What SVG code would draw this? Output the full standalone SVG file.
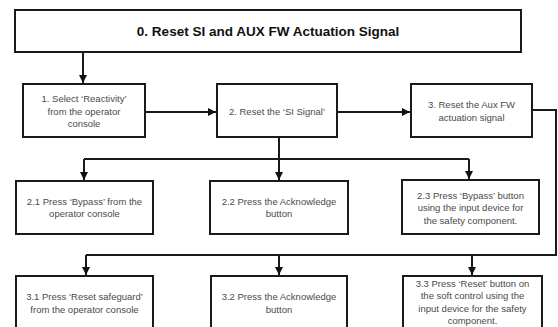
<svg xmlns="http://www.w3.org/2000/svg" width="558" height="327" viewBox="0 0 558 327">
<defs>
<marker id="ah" markerUnits="userSpaceOnUse" markerWidth="10" markerHeight="10" refX="8" refY="4" orient="auto">
<path d="M0,0 L8,4 L0,8 Z" fill="#111"/>
</marker>
<style>
.box{fill:#fff;stroke:#1a1a1a;stroke-width:2}
.t{font-family:"Liberation Sans",Arial,sans-serif;font-size:9.5px;fill:#4a4a4a;text-anchor:middle}
.title{font-family:"Liberation Sans",Arial,sans-serif;font-size:13.5px;font-weight:bold;fill:#111;text-anchor:middle}
.c{fill:none;stroke:#1a1a1a;stroke-width:2}
</style>
</defs>
<rect width="558" height="327" fill="#fff"/>
<g id="connectors">
<path class="c" d="M83,52 V83" marker-end="url(#ah)"/>
<path class="c" d="M145,112 H216" marker-end="url(#ah)"/>
<path class="c" d="M337,112 H410" marker-end="url(#ah)"/>
<path class="c" d="M279,137 V159"/>
<path class="c" d="M84,159 H469"/>
<path class="c" d="M84,159 V180" marker-end="url(#ah)"/>
<path class="c" d="M279,159 V180" marker-end="url(#ah)"/>
<path class="c" d="M469,159 V179" marker-end="url(#ah)"/>
<path class="c" d="M532,110 H556 V255 H86"/>
<path class="c" d="M86,255 V275" marker-end="url(#ah)"/>
<path class="c" d="M279,255 V275" marker-end="url(#ah)"/>
<path class="c" d="M472,255 V275" marker-end="url(#ah)"/>
</g>
<g id="n0">
<rect class="box" x="15" y="10" width="506" height="42"/>
<text class="title" x="268" y="36">0. Reset SI and AUX FW Actuation Signal</text>
</g>
<g id="n1">
<rect class="box" x="23" y="84" width="122" height="53"/>
<text class="t" x="84" y="102">1. Select ‘Reactivity’</text>
<text class="t" x="84" y="114.5">from the operator</text>
<text class="t" x="84" y="127">console</text>
</g>
<g id="n2">
<rect class="box" x="217" y="84" width="120" height="53"/>
<text class="t" x="277" y="114.5">2. Reset the ‘SI Signal’</text>
</g>
<g id="n3">
<rect class="box" x="411" y="84" width="121" height="53"/>
<text class="t" x="471.5" y="108">3. Reset the Aux FW</text>
<text class="t" x="471.5" y="120.5">actuation signal</text>
</g>
<g id="n21">
<rect class="box" x="16" y="181" width="137" height="53"/>
<text class="t" x="84.5" y="204.5">2.1 Press ‘Bypass’ from the</text>
<text class="t" x="84.5" y="217">operator console</text>
</g>
<g id="n22">
<rect class="box" x="210" y="181" width="138" height="53"/>
<text class="t" x="279" y="204.5">2.2 Press the Acknowledge</text>
<text class="t" x="279" y="217">button</text>
</g>
<g id="n23">
<rect class="box" x="402" y="180" width="137" height="54"/>
<text class="t" x="470.5" y="198.5">2.3 Press ‘Bypass’ button</text>
<text class="t" x="470.5" y="211">using the input device for</text>
<text class="t" x="470.5" y="223.5">the safety component.</text>
</g>
<g id="n31">
<rect class="box" x="16" y="276" width="137" height="56"/>
<text class="t" x="84.5" y="299.5">3.1 Press ‘Reset safeguard’</text>
<text class="t" x="84.5" y="312.5">from the operator console</text>
</g>
<g id="n32">
<rect class="box" x="211" y="276" width="136" height="56"/>
<text class="t" x="279" y="299.5">3.2 Press the Acknowledge</text>
<text class="t" x="279" y="312.5">button</text>
</g>
<g id="n33">
<rect class="box" x="403" y="276" width="139" height="56"/>
<text class="t" x="472.5" y="286.5">3.3 Press ‘Reset’ button on</text>
<text class="t" x="472.5" y="299">the soft control using the</text>
<text class="t" x="472.5" y="311.5">input device for the safety</text>
<text class="t" x="472.5" y="324">component.</text>
</g>
</svg>
